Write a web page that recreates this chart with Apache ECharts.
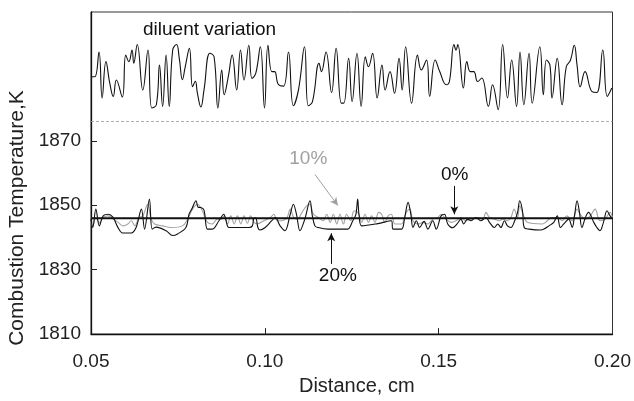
<!DOCTYPE html>
<html>
<head>
<meta charset="utf-8">
<script src="https://cdn.jsdelivr.net/npm/echarts@6/dist/echarts.min.js"></script>
<style>
html,body{margin:0;padding:0;background:#fff;}
#chart{width:634px;height:401px;}
</style>
</head>
<body>
<div id="chart"></div>
<script>
// ---- data ----
const diluentX = [0.0500,0.0511,0.0523,0.0532,0.0543,0.0554,0.0564,0.0573,0.0590,0.0600,0.0609,0.0618,0.0623,0.0633,0.0649,0.0664,0.0675,0.0688,0.0697,0.0706,0.0716,0.0725,0.0735,0.0746,0.0754,0.0763,0.0771,0.0783,0.0792,0.0800,0.0806,0.0816,0.0825,0.0842,0.0854,0.0865,0.0876,0.0883,0.0895,0.0906,0.0919,0.0930,0.0940,0.0954,0.0963,0.0974,0.0987,0.0999,0.1009,0.1020,0.1028,0.1039,0.1054,0.1068,0.1082,0.1097,0.1114,0.1125,0.1137,0.1156,0.1163,0.1176,0.1192,0.1205,0.1220,0.1227,0.1241,0.1251,0.1265,0.1277,0.1289,0.1298,0.1310,0.1323,0.1337,0.1346,0.1360,0.1373,0.1386,0.1395,0.1405,0.1422,0.1439,0.1450,0.1465,0.1474,0.1490,0.1503,0.1522,0.1531,0.1544,0.1550,0.1555,0.1571,0.1581,0.1591,0.1601,0.1612,0.1624,0.1643,0.1655,0.1671,0.1684,0.1698,0.1710,0.1724,0.1734,0.1745,0.1760,0.1769,0.1791,0.1801,0.1810,0.1820,0.1826,0.1841,0.1855,0.1867,0.1879,0.1890,0.1898,0.1907,0.1921,0.1941,0.1955,0.1972,0.1985,0.1998];
const diluentT = [1889.9,1889.9,1897.6,1883.3,1894.6,1887.9,1883.8,1888.9,1883.6,1896.6,1894.6,1898.2,1894.1,1899.9,1885.8,1898.2,1880.2,1881.2,1893.5,1880.7,1896.6,1880.7,1898.2,1899.9,1895.5,1889.0,1893.0,1898.7,1886.8,1888.5,1884.8,1880.5,1885.8,1897.2,1896.1,1880.2,1892.0,1884.3,1890.0,1896.6,1885.8,1898.2,1888.9,1899.7,1889.4,1891.0,1899.2,1880.2,1899.7,1891.5,1891.5,1887.5,1887.0,1897.6,1880.9,1886.0,1899.2,1880.9,1882.2,1894.1,1891.5,1897.6,1885.0,1898.7,1881.7,1881.7,1895.6,1882.2,1897.2,1880.7,1896.1,1893.0,1897.2,1883.3,1893.5,1885.8,1891.5,1884.8,1895.6,1885.8,1899.2,1881.7,1896.6,1892.0,1895.1,1883.8,1895.1,1891.5,1887.4,1888.5,1899.9,1898.2,1899.9,1886.4,1894.6,1891.5,1891.5,1888.4,1889.5,1880.7,1887.4,1879.7,1899.9,1883.3,1895.1,1880.7,1897.6,1881.2,1897.2,1881.7,1899.2,1884.3,1895.1,1893.5,1883.3,1895.6,1881.2,1893.0,1895.0,1899.7,1893.5,1886.8,1891.5,1885.3,1885.0,1898.2,1883.8,1886.4];

const pct20X = [0.0500,0.0505,0.0514,0.0524,0.0535,0.0549,0.0563,0.0577,0.0591,0.0616,0.0630,0.0645,0.0654,0.0668,0.0676,0.0687,0.0716,0.0735,0.0749,0.0773,0.0782,0.0791,0.0802,0.0808,0.0816,0.0825,0.0835,0.0849,0.0868,0.0882,0.0888,0.0897,0.0940,0.0954,0.0964,0.0969,0.0974,0.0980,0.0986,0.1001,0.1020,0.1030,0.1044,0.1058,0.1073,0.1082,0.1091,0.1101,0.1115,0.1130,0.1136,0.1144,0.1153,0.1182,0.1230,0.1239,0.1253,0.1262,0.1267,0.1271,0.1279,0.1325,0.1364,0.1369,0.1393,0.1402,0.1412,0.1420,0.1426,0.1436,0.1445,0.1458,0.1469,0.1483,0.1493,0.1507,0.1517,0.1526,0.1540,0.1553,0.1564,0.1572,0.1583,0.1593,0.1607,0.1621,0.1636,0.1646,0.1660,0.1670,0.1679,0.1689,0.1698,0.1708,0.1717,0.1727,0.1733,0.1741,0.1746,0.1760,0.1793,0.1803,0.1817,0.1831,0.1841,0.1850,0.1860,0.1874,0.1884,0.1891,0.1898,0.1905,0.1912,0.1922,0.1931,0.1946,0.1955,0.1964,0.1974,0.1984,0.1993,0.2000];
const pct20T = [1845.7,1843.1,1848.8,1843.6,1846.7,1847.2,1846.3,1843.2,1841.4,1841.4,1843.2,1848.8,1842.6,1851.9,1842.6,1843.2,1842.1,1840.6,1841.1,1843.1,1847.2,1849.1,1851.4,1849.4,1849.3,1848.5,1842.6,1842.6,1845.2,1847.2,1845.4,1843.1,1843.1,1843.1,1843.6,1846.0,1846.0,1843.1,1842.3,1843.1,1845.2,1846.2,1843.6,1842.1,1847.2,1850.3,1847.2,1842.1,1845.7,1851.4,1847.2,1843.6,1843.1,1842.6,1842.6,1842.6,1845.2,1847.2,1851.9,1847.0,1843.6,1844.3,1845.2,1842.6,1842.6,1846.0,1850.9,1847.2,1843.1,1845.2,1843.1,1845.0,1842.6,1845.2,1842.6,1846.7,1847.2,1844.2,1843.0,1844.2,1845.7,1844.2,1845.7,1845.2,1846.2,1845.2,1846.2,1844.7,1843.1,1844.2,1843.1,1845.2,1843.6,1843.1,1844.7,1847.8,1851.4,1848.3,1843.1,1842.6,1842.3,1842.6,1843.6,1844.7,1846.7,1843.1,1844.2,1845.7,1843.1,1847.0,1851.4,1847.8,1843.1,1846.2,1847.8,1844.7,1843.1,1842.1,1844.7,1848.3,1846.7,1845.7];

const pct10X = [0.0500,0.0505,0.0514,0.0524,0.0535,0.0549,0.0564,0.0578,0.0592,0.0606,0.0616,0.0626,0.0638,0.0649,0.0663,0.0673,0.0683,0.0706,0.0730,0.0763,0.0778,0.0792,0.0806,0.0820,0.0835,0.0849,0.0863,0.0874,0.0883,0.0893,0.0902,0.0912,0.0921,0.0931,0.0940,0.0950,0.0959,0.0969,0.0978,0.0997,0.1016,0.1026,0.1036,0.1050,0.1064,0.1073,0.1083,0.1094,0.1104,0.1116,0.1129,0.1140,0.1154,0.1168,0.1178,0.1188,0.1197,0.1207,0.1216,0.1226,0.1235,0.1247,0.1254,0.1260,0.1269,0.1279,0.1288,0.1298,0.1307,0.1317,0.1327,0.1336,0.1345,0.1355,0.1364,0.1374,0.1393,0.1407,0.1417,0.1426,0.1441,0.1455,0.1469,0.1483,0.1498,0.1507,0.1521,0.1536,0.1550,0.1564,0.1578,0.1593,0.1612,0.1627,0.1636,0.1646,0.1660,0.1675,0.1684,0.1698,0.1708,0.1717,0.1727,0.1733,0.1743,0.1755,0.1798,0.1827,0.1841,0.1855,0.1869,0.1884,0.1898,0.1907,0.1922,0.1936,0.1950,0.1964,0.1979,0.1993,0.2000];
const pct10T = [1845.0,1843.5,1846.2,1844.5,1846.2,1846.7,1845.7,1844.7,1843.6,1844.2,1845.2,1843.6,1846.2,1846.7,1850.3,1845.7,1844.2,1843.6,1843.1,1843.6,1845.7,1848.8,1850.3,1848.3,1844.7,1844.2,1845.7,1845.7,1846.7,1844.2,1846.7,1844.2,1846.7,1844.2,1846.7,1844.4,1846.7,1844.7,1844.2,1845.2,1846.2,1847.2,1845.2,1845.2,1846.2,1848.8,1846.2,1845.7,1847.2,1849.3,1850.3,1847.2,1846.2,1845.2,1847.2,1844.7,1847.2,1844.2,1847.2,1844.2,1847.2,1845.2,1847.8,1848.3,1847.5,1844.7,1847.2,1844.7,1846.7,1844.7,1847.8,1847.2,1844.7,1846.7,1847.2,1844.2,1844.2,1847.8,1848.8,1845.2,1844.2,1844.7,1844.2,1845.7,1846.2,1847.2,1845.7,1844.7,1845.2,1846.2,1845.2,1845.7,1846.2,1845.7,1847.8,1846.2,1845.7,1845.2,1845.7,1845.2,1846.2,1848.8,1846.2,1849.8,1847.2,1844.7,1844.2,1846.2,1846.2,1845.2,1846.7,1845.2,1848.8,1847.2,1845.7,1846.7,1848.8,1845.2,1845.7,1847.8,1846.2];

const pct0Level = 1846.0;
const dashedLevel = 1876.0;

const xRange = [0.05, 0.20];
const yRange = [1810, 1910];
const xTickLabels = [0.05, 0.10, 0.15, 0.20];
const yTickLabels = [1810, 1830, 1850, 1870];

// annotation anchors (data coordinates)
const annotations = [
  {text: '10%', color: '#a0a0a0', at: [0.1125, 1864.5], from: [0.1144, 1859.6], to: [0.1210, 1849.9]},
  {text: '0%',  color: '#111111', at: [0.1546, 1859.4], from: [0.1545, 1856.0], to: [0.1545, 1847.2]},
  {text: '20%', color: '#111111', at: [0.1210, 1828.0], from: [0.1191, 1831.8], to: [0.1191, 1841.3]}
];
const diluentLabel = {text: 'diluent variation', at: [0.0841, 1904.4]};

const zip = (xs, ys) => xs.map((x, i) => [x, ys[i]]);
const FONT = '"Liberation Sans", Arial, Helvetica, sans-serif';

const chart = echarts.init(document.getElementById('chart'), null, {renderer: 'canvas'});

const arrowLines = annotations.map(a => [
  {coord: a.from, lineStyle: {color: a.color, width: 1, type: 'solid'}, itemStyle: {color: a.color}},
  {coord: a.to}
]);

chart.setOption({
  animation: false,
  backgroundColor: '#fff',
  grid: {left: 91, right: 17, top: 12, bottom: 65, show: true, borderColor: '#333', borderWidth: 1, backgroundColor: 'transparent'},
  xAxis: {
    type: 'value', min: xRange[0], max: xRange[1], interval: 0.05,
    name: 'Distance, cm', nameLocation: 'middle', nameGap: 40,
    nameTextStyle: {fontFamily: FONT, fontSize: 20, color: '#222', padding: [0, 0, 0, 10]},
    axisLine: {show: true, lineStyle: {color: '#111', width: 1.3}},
    axisTick: {show: true, inside: true, length: 6, lineStyle: {color: '#222'}, customValues: [0.10, 0.15]},
    axisLabel: {fontFamily: FONT, fontSize: 19, color: '#222', margin: 18, customValues: xTickLabels,
      formatter: v => v.toFixed(2)},
    splitLine: {show: false}
  },
  yAxis: {
    type: 'value', min: yRange[0], max: yRange[1], interval: 20,
    axisLine: {show: true, lineStyle: {color: '#111', width: 1.3}},
    axisTick: {show: true, inside: true, length: 6, lineStyle: {color: '#222'}, customValues: [1830, 1850, 1870]},
    axisLabel: {fontFamily: FONT, fontSize: 19, color: '#222', margin: 10, customValues: yTickLabels,
      formatter: v => String(v)},
    splitLine: {show: false}
  },
  series: [
    {
      name: 'diluent variation', type: 'line', data: zip(diluentX, diluentT),
      smooth: 0.45, showSymbol: false, symbol: 'none',
      lineStyle: {color: '#111', width: 1.1}, z: 3,
      markLine: {
        silent: true, symbol: 'none', label: {show: false},
        lineStyle: {color: '#9a9a9a', width: 0.8, type: [3, 2]},
        data: [{yAxis: dashedLevel}]
      }
    },
    {
      name: '10%', type: 'line', data: zip(pct10X, pct10T),
      smooth: 0.35, showSymbol: false, symbol: 'none',
      lineStyle: {color: '#a3a3a3', width: 1.1}, z: 2
    },
    {
      name: '20%', type: 'line', data: zip(pct20X, pct20T),
      smooth: 0.35, showSymbol: false, symbol: 'none',
      lineStyle: {color: '#111', width: 1.1}, z: 3,
      markLine: {
        silent: true, symbol: ['none', 'arrow'], symbolSize: [6, 8], label: {show: false},
        lineStyle: {type: 'solid', width: 1},
        data: arrowLines
      }
    },
    {
      name: '0%', type: 'line', data: [[xRange[0], pct0Level], [xRange[1], pct0Level]],
      showSymbol: false, symbol: 'none',
      lineStyle: {color: '#111', width: 2}, z: 4
    }
  ]
});

function placeLabels() {
  const els = [];
  annotations.forEach(a => {
    const p = chart.convertToPixel({gridIndex: 0}, a.at);
    els.push({type: 'text', x: p[0], y: p[1], z: 10,
      style: {text: a.text, fill: a.color, font: '19px ' + FONT, align: 'center', verticalAlign: 'middle'}});
  });
  const d = chart.convertToPixel({gridIndex: 0}, diluentLabel.at);
  els.push({type: 'text', x: d[0], y: d[1], z: 10,
    style: {text: diluentLabel.text, fill: '#111', font: '19px ' + FONT, align: 'center', verticalAlign: 'middle'}});
  els.push({type: 'text', x: 17, y: 218, rotation: Math.PI / 2, z: 10,
    style: {text: 'Combustion Temperature,K', fill: '#222', font: '21px ' + FONT, align: 'center', verticalAlign: 'middle'}});
  chart.setOption({graphic: {elements: els}});
}
placeLabels();
</script>
</body>
</html>
